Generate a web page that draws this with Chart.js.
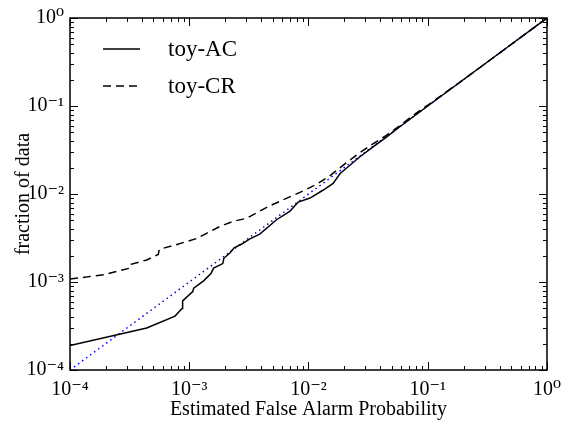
<!DOCTYPE html>
<html>
<head>
<meta charset="utf-8">
<script src="https://cdn.jsdelivr.net/npm/chart.js@4.4.1/dist/chart.umd.min.js"></script>
<style>
  html, body { margin: 0; padding: 0; background: #fff; }
  #wrap { width: 569px; height: 424px; }
</style>
</head>
<body>
<div id="wrap"><canvas id="farChart"></canvas></div>
<script>
// toy-AC (solid)
const acFap  = [1e-4, 4.4e-4, 7.6e-4, 8.7e-4, 8.8e-4, 1.07e-3, 1.09e-3, 1.32e-3, 1.52e-3, 1.6e-3, 1.91e-3, 1.95e-3,
                2.2e-3, 2.38e-3, 2.76e-3, 3.2e-3, 3.9e-3, 5.4e-3, 7.0e-3, 8.2e-3, 0.0103, 0.0133, 0.0161, 0.0184,
                0.0215, 0.027, 0.0348, 0.045, 0.058, 0.1, 0.2, 0.5, 1];
const acFrac = [1.9e-4, 3.0e-4, 4.1e-4, 5.0e-4, 6.1e-4, 7.8e-4, 8.5e-4, 1.03e-3, 1.25e-3, 1.44e-3, 1.62e-3, 1.86e-3,
                2.15e-3, 2.45e-3, 2.7e-3, 3.07e-3, 3.5e-3, 5.1e-3, 6.4e-3, 8.1e-3, 9.0e-3, 0.0111, 0.0132, 0.0171,
                0.0204, 0.0265, 0.0343, 0.0444, 0.0577, 0.1, 0.2, 0.5, 1];

// toy-CR (dashed)
const crFap  = [1e-4, 1.92e-4, 3.2e-4, 3.25e-4, 4.4e-4, 5.5e-4, 5.6e-4, 7.6e-4, 1.16e-3, 1.41e-3, 1.82e-3, 2.35e-3,
                3.04e-3, 3.9e-3, 4.8e-3, 6.6e-3, 9.1e-3, 0.0117, 0.0151, 0.0196, 0.0253, 0.0327, 0.045, 0.058,
                0.08, 0.1, 0.2, 0.5, 1];
const crFrac = [1.08e-3, 1.21e-3, 1.44e-3, 1.59e-3, 1.78e-3, 2.06e-3, 2.35e-3, 2.63e-3, 3.13e-3, 3.6e-3, 4.3e-3, 4.9e-3,
                5.3e-3, 6.4e-3, 7.4e-3, 8.97e-3, 0.0109, 0.0129, 0.0161, 0.0213, 0.0277, 0.0352, 0.0465, 0.0595,
                0.083, 0.102, 0.2, 0.5, 1];

// y = x reference
const diagFap  = [1e-4, 1];
const diagFrac = [1e-4, 1];

const tickValues = [1e-4, 1e-3, 1e-2, 1e-1, 1];
const tickLabels = ['10⁻⁴', '10⁻³', '10⁻²', '10⁻¹', '10⁰'];

const toPoints = (xs, ys) => xs.map((x, i) => ({ x: x, y: ys[i] }));

function tickLabel(value) {
  const i = tickValues.findIndex(t => Math.abs(Math.log10(value) - Math.log10(t)) < 1e-6);
  return i >= 0 ? tickLabels[i] : '';
}

Chart.defaults.font.family = '"Liberation Serif", "DejaVu Serif", serif';
Chart.defaults.color = '#000';

// inward ticks on all four sides + frame
const frameTicks = {
  id: 'frameTicks',
  afterDraw(chart) {
    const { ctx, chartArea: a, scales: { x, y } } = chart;
    ctx.save();
    ctx.strokeStyle = '#000';
    ctx.lineWidth = 1;
    ctx.beginPath();
    for (let e = -4; e <= 0; e++) {
      for (let m = 1; m <= 9; m++) {
        const v = m * Math.pow(10, e);
        if (v > 1.000001) break;
        const len = m === 1 ? 8 : 4;
        const px = Math.round(x.getPixelForValue(v)) + 0.5;
        const py = Math.round(y.getPixelForValue(v)) + 0.5;
        ctx.moveTo(px, a.bottom); ctx.lineTo(px, a.bottom - len);
        ctx.moveTo(px, a.top);    ctx.lineTo(px, a.top + len);
        ctx.moveTo(a.left, py);   ctx.lineTo(a.left + len, py);
        ctx.moveTo(a.right, py);  ctx.lineTo(a.right - len, py);
      }
    }
    ctx.stroke();
    ctx.lineWidth = 1.5;
    ctx.strokeRect(a.left, a.top, a.right - a.left, a.bottom - a.top);
    ctx.restore();
  }
};

// legend in upper left, line sample then label
const legendInside = {
  id: 'legendInside',
  afterDatasetsDraw(chart) {
    const { ctx, chartArea: a } = chart;
    ctx.save();
    ctx.font = '23px "Liberation Serif", serif';
    ctx.textBaseline = 'middle';
    ctx.fillStyle = '#000';
    let row = 0;
    chart.data.datasets.forEach(ds => {
      if (!ds.label) return;
      const yy = a.top + 31 + row * 37;
      ctx.strokeStyle = ds.borderColor;
      ctx.lineWidth = ds.borderWidth;
      ctx.setLineDash(ds.borderDash || []);
      ctx.beginPath();
      ctx.moveTo(a.left + 33, yy);
      ctx.lineTo(a.left + 70, yy);
      ctx.stroke();
      ctx.fillText(ds.label, a.left + 98, yy + 1);
      row++;
    });
    ctx.restore();
  }
};

new Chart(document.getElementById('farChart'), {
  type: 'line',
  data: {
    datasets: [
      {
        label: 'toy-AC',
        data: toPoints(acFap, acFrac),
        borderColor: '#000',
        borderWidth: 1.5,
        pointRadius: 0,
        tension: 0
      },
      {
        label: 'toy-CR',
        data: toPoints(crFap, crFrac),
        borderColor: '#000',
        borderWidth: 1.5,
        borderDash: [8, 5],
        pointRadius: 0,
        tension: 0
      },
      {
        label: '',
        data: toPoints(diagFap, diagFrac),
        borderColor: '#0000ff',
        borderWidth: 1.5,
        borderDash: [1.5, 3.5],
        pointRadius: 0,
        tension: 0
      }
    ]
  },
  options: {
    responsive: true,
    maintainAspectRatio: false,
    animation: false,
    layout: { padding: { top: 15, right: 21, left: 0, bottom: 0 } },
    plugins: {
      legend: { display: false },
      tooltip: { enabled: false }
    },
    scales: {
      x: {
        type: 'logarithmic',
        min: 1e-4,
        max: 1,
        grid: { display: false, drawTicks: false },
        border: { display: false },
        ticks: { autoSkip: false, maxRotation: 0, padding: 8, font: { size: 20 }, callback: tickLabel },
        title: { display: true, text: 'Estimated False Alarm Probability', font: { size: 20 }, padding: 2 },
        afterFit(scale) { scale.height = 54; }
      },
      y: {
        type: 'logarithmic',
        min: 1e-4,
        max: 1,
        grid: { display: false, drawTicks: false },
        border: { display: false },
        ticks: { autoSkip: false, padding: 6, font: { size: 20 }, callback: tickLabel },
        title: { display: true, text: 'fraction of data', font: { size: 20 }, padding: 12 },
        afterFit(scale) { scale.width = 70; }
      }
    }
  },
  plugins: [frameTicks, legendInside]
});
</script>
</body>
</html>
